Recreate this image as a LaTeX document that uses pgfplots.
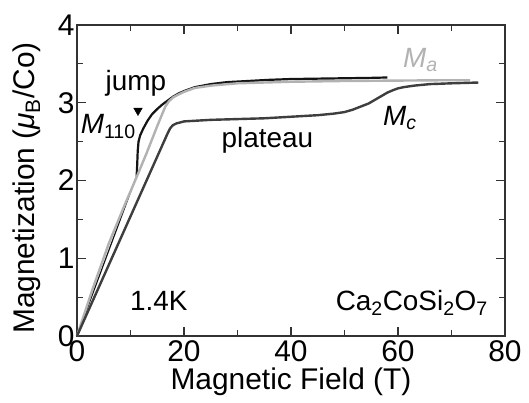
\documentclass[border=0pt]{standalone}
\usepackage{pgfplots}
\pgfplotsset{compat=1.18}
\usepackage{fontspec}
\setmainfont{Liberation Sans}
\definecolor{cblack}{RGB}{20,20,20}
\definecolor{cgray}{RGB}{178,178,178}
\definecolor{cdark}{RGB}{62,62,62}
\definecolor{cframe}{RGB}{50,50,50}
\begin{document}
\begin{tikzpicture}
\begin{axis}[
  at={(0,0)}, anchor=south west,
  scale only axis, width=428bp, height=311bp,
  xmin=0, xmax=80, ymin=0, ymax=4,
  xtick={0,20,40,60,80}, ytick={0,1,2,3,4},
  minor x tick num=1, minor y tick num=1,
  tick align=inside,
  major tick length=9bp, minor tick length=6bp,
  axis line style={line width=1.4bp, cframe},
  every tick/.style={line width=1.2bp, cframe},
  /pgf/number format/assume math mode=true,
  tick label style={font=\fontsize{30}{36}\selectfont},
  xticklabel style={yshift=-1bp},
  yticklabel style={xshift=1bp},
  xlabel={Magnetic Field (T)},
  ylabel={Magnetization (\textit{μ}\textsubscript{B}/Co)},
  label style={font=\fontsize{30}{36}\selectfont},
  xlabel style={at={(axis description cs:0.5,-0.172)}, anchor=base},
  ylabel style={at={(axis description cs:-0.1,0.476)}, anchor=base, rotate=0},
  clip=false,
]
% M_110 (black), thin lower part
\addplot[cblack, line width=1.2bp] coordinates {
(0,0) (2,0.37) (4,0.74) (6,1.11) (8,1.48) (10,1.85) (11.15,2.06)
};
% M_110 (black), thick upper part
\addplot[cblack, line width=2.2bp, line join=round] coordinates {
(11.15,2.06) (11.25,2.2) (11.35,2.38) (11.5,2.5) (11.8,2.58) (12.4,2.67) (13.2,2.77) (14,2.85)
(15,2.92) (16,2.98) (17,3.03) (18,3.08) (19,3.12) (20,3.15) (22,3.2)
(25,3.24) (28,3.265) (32,3.28) (36,3.295) (40,3.305) (45,3.31) (50,3.315)
(55,3.32) (58,3.325)
};
% M_a (light gray)
\addplot[cgray, line width=2.4bp, line join=round] coordinates {
(0,0) (3,0.62) (6,1.2) (9,1.7) (11,2.02) (13,2.35) (15,2.7) (16.5,2.95)
(17.2,3.02) (18,3.07) (18.8,3.1) (20,3.14) (22,3.19) (25,3.22) (30,3.25) (40,3.27)
(50,3.28) (60,3.285) (70,3.29) (73.5,3.29)
};
% M_c (dark gray)
\addplot[cdark, line width=2.4bp, line join=round] coordinates {
(0,0) (16.9,2.6) (17.4,2.67) (17.9,2.71) (18.6,2.735) (19.5,2.75) (20,2.76) (25,2.78) (30,2.79)
(35,2.8) (40,2.82) (45,2.84) (48,2.86) (50,2.88) (51.5,2.91) (53,2.95) (54.5,2.99) (56,3.05)
(57,3.09) (58,3.13) (59,3.16) (60,3.185) (61,3.2) (63,3.22) (66,3.24) (70,3.25) (75,3.26)
};
% jump marker
\addplot[only marks, mark=triangle*, mark size=5bp, mark options={rotate=180, fill=black, draw=black}] coordinates {(11.4,2.9)};
\node[font=\fontsize{28}{34}\selectfont, anchor=base] at (axis cs:11.0,3.16) {jump};
\node[font=\fontsize{28}{34}\selectfont, anchor=base east, inner sep=0pt] at (axis cs:11.0,2.6) {\textit{M}\textsubscript{110}};
\node[font=\fontsize{28}{34}\selectfont, anchor=base west, inner sep=0pt] at (axis cs:27.0,2.42) {plateau};
\node[font=\fontsize{28}{34}\selectfont, anchor=base west, inner sep=0pt, text=cgray] at (axis cs:60.9,3.45) {\textit{M}\textsubscript{\textit{a}}};
\node[font=\fontsize{28}{34}\selectfont, anchor=base west, inner sep=0pt] at (axis cs:57.2,2.71) {\textit{M}\textsubscript{\textit{c}}};
\node[font=\fontsize{28}{34}\selectfont, anchor=base west, inner sep=0pt] at (axis cs:9.9,0.33) {1.4K};
\node[font=\fontsize{28}{34}\selectfont, anchor=base east, inner sep=0pt] at (axis cs:76.8,0.33) {Ca\textsubscript{2}CoSi\textsubscript{2}O\textsubscript{7}};
\end{axis}
\pgfresetboundingbox
\path[use as bounding box] (-77bp,-67bp) rectangle (452bp,336bp);
\end{tikzpicture}
\end{document}
